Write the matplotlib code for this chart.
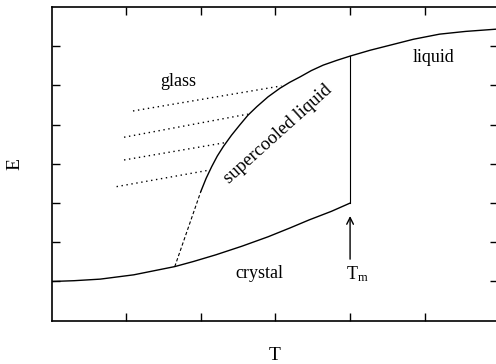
import matplotlib
matplotlib.use('Agg')
import matplotlib.pyplot as plt

plt.rcParams['font.family'] = ['Liberation Serif', 'DejaVu Serif']
plt.rcParams['mathtext.fontset'] = 'custom'
plt.rcParams['mathtext.rm'] = 'Liberation Serif'
plt.rcParams['mathtext.it'] = 'Liberation Serif:italic'

# crystal branch, up to the melting point
crystal_T = [0.0, 0.3, 0.65, 1.1, 1.65, 1.9, 2.2, 2.55, 2.9, 3.2, 3.45, 3.75, 4.0]
crystal_E = [1.0, 1.02, 1.06, 1.17, 1.38, 1.51, 1.68, 1.90, 2.14, 2.37, 2.57, 2.79, 3.0]

# liquid + supercooled liquid (solid part)
liquid_T = [2.0, 2.07, 2.145, 2.22, 2.30, 2.41, 2.52, 2.63, 2.75, 2.9, 3.06, 3.19,
            3.33, 3.48, 3.64, 3.82, 4.0, 4.27, 4.54, 4.85, 5.2, 5.55, 5.98]
liquid_E = [3.30, 3.63, 3.93, 4.20, 4.44, 4.73, 4.99, 5.24, 5.46, 5.71, 5.93, 6.08,
            6.22, 6.38, 6.52, 6.64, 6.75, 6.90, 7.03, 7.18, 7.31, 7.38, 7.44]

# dashed continuation down to the crystal curve
dashed_T = [1.65, 2.0]
dashed_E = [1.38, 3.30]

# glass lines (start, end)
glass_T = [[1.09, 3.08], [0.97, 2.63], [0.97, 2.32], [0.87, 2.08]]
glass_E = [[5.35, 5.99], [4.68, 5.27], [4.10, 4.54], [3.42, 3.83]]

Tm = 4.0
Tm_jump = [3.0, 6.75]

x_ticks = [1, 2, 3, 4, 5]
y_ticks = [1, 2, 3, 4, 5, 6, 7]


def main():
    fig = plt.figure(figsize=(4.96, 3.64), dpi=100)
    ax = fig.add_axes([0.1042, 0.119, 0.8994, 0.8615])

    ax.plot(crystal_T, crystal_E, color='black', lw=1.0)
    ax.plot(liquid_T, liquid_E, color='black', lw=1.0)
    ax.plot(dashed_T, dashed_E, color='black', lw=0.8, dashes=(3, 2))
    ax.plot([Tm, Tm], Tm_jump, color='black', lw=0.8)

    for t, e in zip(glass_T, glass_E):
        ax.plot(t, e, color='black', lw=1.0, linestyle=(0, (1, 2.6)))

    ax.annotate('', xy=(Tm, 2.67), xytext=(Tm, 1.57),
                arrowprops=dict(arrowstyle='->', lw=1.0, color='black',
                                mutation_scale=12, shrinkA=0, shrinkB=0))

    ax.text(1.70, 6.10, 'glass', fontsize=13, ha='center', va='center')
    ax.text(5.125, 6.71, 'liquid', fontsize=13, ha='center', va='center')
    ax.text(2.79, 1.21, 'crystal', fontsize=13, ha='center', va='center')
    ax.text(3.03, 4.75, 'supercooled liquid', fontsize=13.5, ha='center',
            va='center', rotation=42, rotation_mode='anchor')
    ax.text(3.94, 1.18, r'$\mathrm{T_m}$', fontsize=13, ha='left', va='center')

    ax.set_xlim(0, 5.98)
    ax.set_ylim(0, 8)
    ax.set_xticks(x_ticks)
    ax.set_yticks(y_ticks)
    ax.set_xticklabels([])
    ax.set_yticklabels([])
    ax.tick_params(direction='in', length=6, width=1.0, top=True, right=True)
    for s in ax.spines.values():
        s.set_linewidth(1.2)

    fig.text(15 / 496, 1 - 164 / 364, 'E', fontsize=14, rotation=90,
             ha='center', va='center')
    fig.text(275 / 496, 1 - 356 / 364, 'T', fontsize=14,
             ha='center', va='center')

    fig.savefig('out.png', dpi=100)


main()
